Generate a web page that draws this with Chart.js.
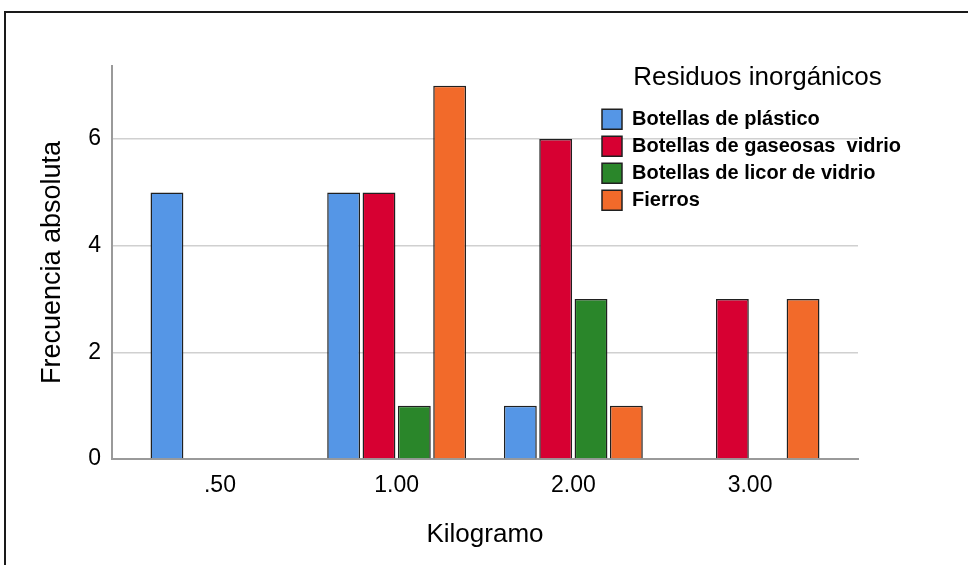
<!DOCTYPE html>
<html><head><meta charset="utf-8">
<script src="https://cdn.jsdelivr.net/npm/chart.js@4/dist/chart.umd.min.js"></script>
<style>
html,body{margin:0;padding:0;background:#fff;overflow:hidden;width:968px;height:565px;}
#frame{position:absolute;left:4px;top:11px;width:1000px;height:600px;border-left:2px solid #1a1a1a;border-top:2px solid #1a1a1a;}
#wrap{position:absolute;left:0;top:0;width:968px;height:565px;}
</style></head><body>
<div id="frame"></div>
<div id="wrap"><canvas id="c" width="968" height="565"></canvas></div>
<script>
// ---- data ----
const categories = ['.50', '1.00', '2.00', '3.00'];
const seriesNames = ['Botellas de plástico', 'Botellas de gaseosas  vidrio', 'Botellas de licor de vidrio', 'Fierros'];
const plastico = [5, 5, 1, null];
const gaseosas = [null, 5, 6, 3];
const licor    = [null, 1, 3, null];
const fierros  = [null, 7, 1, 3];
const yTicks = [0, 2, 4, 6];
const legendTitle = 'Residuos inorgánicos';
const xTitle = 'Kilogramo';
const yTitle = 'Frecuencia absoluta';

// ---- styles ----
const colors = ['#5596e6', '#d70032', '#2a862a', '#f26a2a'];
const family = "'Liberation Sans', Arial, sans-serif";
Chart.defaults.font.family = family;
Chart.defaults.color = '#000';

const series = [plastico, gaseosas, licor, fierros];

const placeLegend = {
  id: 'placeLegend',
  afterLayout(chart) {
    const lg = chart.legend;
    if (!lg) return;
    lg.left = 595; lg.top = 65; lg.width = 325; lg.right = lg.left + lg.width;
    lg.height = 300; lg.bottom = lg.top + lg.height;
  }
};

new Chart(document.getElementById('c'), {
  type: 'bar',
  data: {
    datasets: series.map((s, k) => ({
      label: seriesNames[k],
      data: s.map((v, i) => ({ x: i, y: v })),
      backgroundColor: colors[k],
      borderColor: '#202020',
      borderWidth: 1.5,
      categoryPercentage: 0.80,
      barPercentage: 0.93
    }))
  },
  options: {
    responsive: false,
    animation: false,
    devicePixelRatio: 1,
    layout: { padding: { left: 30, top: 66, right: 110, bottom: 10 } },
    scales: {
      x: {
        type: 'linear', offset: false, min: -0.611, max: 3.611,
        afterBuildTicks: s => { s.ticks = categories.map((c, i) => ({ value: i })); },
        grid: { display: false, drawTicks: false },
        border: { display: true, color: '#9a9a9a', width: 2 },
        ticks: { callback: v => categories[v] ?? '', font: { family, size: 23 }, color: '#000', padding: 13, maxRotation: 0, autoSkip: false },
        title: { display: true, text: xTitle, font: { family, size: 26 }, color: '#000', padding: { top: 0, bottom: 5 } },
        afterFit: s => { s.height = 96; }
      },
      y: {
        min: 0, max: 7.37,
        afterBuildTicks: s => { s.ticks = yTicks.map(v => ({ value: v })); },
        grid: { drawTicks: false, lineWidth: 1.5, color: c => (c.tick && c.tick.value === 0) ? 'rgba(0,0,0,0)' : '#d0d0d0' },
        border: { color: '#9a9a9a', width: 2 },
        ticks: { font: { family, size: 23 }, color: '#000', padding: 11 },
        title: { display: true, text: yTitle, font: { family, size: 27 }, color: '#000', padding: { top: 6, bottom: 0 } },
        afterFit: s => { s.width = 82; }
      }
    },
    plugins: {
      tooltip: { enabled: false },
      legend: {
        position: 'chartArea', align: 'start',
        title: { display: true, text: legendTitle, font: { family, size: 26 }, color: '#000', padding: { top: 0, bottom: 6 }, position: 'center' },
        labels: { boxWidth: 20, boxHeight: 20, padding: 7, color: '#000', font: { family, size: 20, weight: 'bold' } }
      }
    }
  },
  plugins: [placeLegend]
});
</script>
</body></html>
